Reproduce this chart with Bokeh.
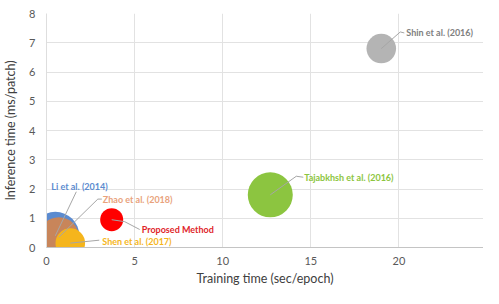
from bokeh.plotting import figure
from bokeh.models import ColumnDataSource, Range1d, FixedTicker
from bokeh.core.properties import value
from bokeh.embed import file_html
from bokeh.resources import INLINE
import math

# ---------------- data ----------------
methods = ["Li et al. (2014)", "Zhao et al. (2018)", "Shen et al. (2017)",
           "Proposed Method", "Tajabkhsh et al. (2016)", "Shin et al. (2016)"]
train_time = [0.5, 0.7, 1.35, 3.7, 12.7, 19.0]      # sec/epoch
infer_time = [0.4, 0.35, 0.15, 0.95, 1.8, 6.8]      # ms/patch
bubble_value = [100, 70, 38, 23, 88, 38]            # relative bubble size
x_ticks = [0, 5, 10, 15, 20, 25]
y_ticks = [0, 1, 2, 3, 4, 5, 6, 7, 8]

# ---------------- styles / layout ----------------
bubble_colors = ["#5b8bd0", "#c8855a", "#f5b51c", "#ff0000", "#8cc540", "#b4b4b4"]
label_colors = ["#5b8bd0", "#e9a27c", "#f5b51c", "#e0252a", "#8cc540", "#808080"]
MAX_DIAM = 48.0
# label anchor (left-middle) offset from bubble centre, in px (right, up)
label_off = [(-4, 50), (44, 39), (32, 2), (30, -10), (34, 18), (25, 16)]
# leader elbow / end, px relative to label anchor (right, up)
elbow_off = [(25, -5), (-5, 0), (-3, 1), (-17, 8), (-8, 1), (-6, 1)]
end_off = [(25, -5), (-1, 0), (-3, 1), (-2, 0), (-1, 0), (-2, 0)]

W, H = 483, 288
LEFT, TOP, BOTTOM = 46, 13, 36
PX_X = 17.62                     # px per x unit
X_END = (W - LEFT) / PX_X
PX_Y = (H - TOP - BOTTOM) / 8.0

diam = [MAX_DIAM * math.sqrt(v / 100.0) for v in bubble_value]

lab_x = [x + dx / PX_X for x, (dx, dy) in zip(train_time, label_off)]
lab_y = [y + dy / PX_Y for y, (dx, dy) in zip(infer_time, label_off)]

src = ColumnDataSource(dict(x=train_time, y=infer_time, d=diam, c=bubble_colors))
lab_src = ColumnDataSource(dict(x=lab_x, y=lab_y, t=methods, c=label_colors))

lead_xs, lead_ys = [], []
for i in range(len(methods)):
    ex = lab_x[i] + elbow_off[i][0] / PX_X
    ey = lab_y[i] + elbow_off[i][1] / PX_Y
    tx = lab_x[i] + end_off[i][0] / PX_X
    ty = lab_y[i] + end_off[i][1] / PX_Y
    lead_xs.append([train_time[i], ex, tx])
    lead_ys.append([infer_time[i], ey, ty])

p = figure(width=W, height=H, x_range=Range1d(0, X_END), y_range=Range1d(0, 8),
           output_backend="svg", toolbar_location=None,
           min_border_left=LEFT, min_border_right=0, min_border_top=TOP,
           min_border_bottom=BOTTOM)
p.outline_line_color = None
p.background_fill_color = "white"
p.border_fill_color = "white"

p.xgrid.ticker = FixedTicker(ticks=x_ticks)
p.ygrid.ticker = FixedTicker(ticks=y_ticks)
p.xaxis.ticker = FixedTicker(ticks=x_ticks)
p.yaxis.ticker = FixedTicker(ticks=y_ticks)
for g in (p.xgrid, p.ygrid):
    g.grid_line_color = "#e2e2e2"
    g.grid_line_width = 1

for ax in (p.xaxis, p.yaxis):
    ax.major_tick_line_color = None
    ax.minor_tick_line_color = None
    ax.major_label_text_font = "Lato"
    ax.major_label_text_font_size = "11px"
    ax.major_label_text_color = "#595959"
    ax.axis_label_text_font = "Lato"
    ax.axis_label_text_font_size = "12.5px"
    ax.axis_label_text_font_style = "normal"
    ax.axis_label_text_color = "#404040"

p.xaxis.axis_line_color = "#c4c4c4"
p.yaxis.axis_line_color = "#dedede"
p.xaxis.axis_label = "Training time (sec/epoch)"
p.yaxis.axis_label = "Inference time (ms/patch)"
p.xaxis.major_label_standoff = 3
p.xaxis.axis_label_standoff = 3
p.yaxis.major_label_standoff = 5
p.yaxis.axis_label_standoff = 8

p.scatter("x", "y", size="d", fill_color="c", line_color=None, source=src)
p.multi_line(lead_xs, lead_ys, line_color="#a6a6a6", line_width=1)
p.text("x", "y", text="t", text_color="c", source=lab_src,
       text_font=value("Lato"), text_font_style="bold", text_font_size="9px",
       text_align="left", text_baseline="middle")

open("out.html", "w").write(file_html(p, INLINE))
